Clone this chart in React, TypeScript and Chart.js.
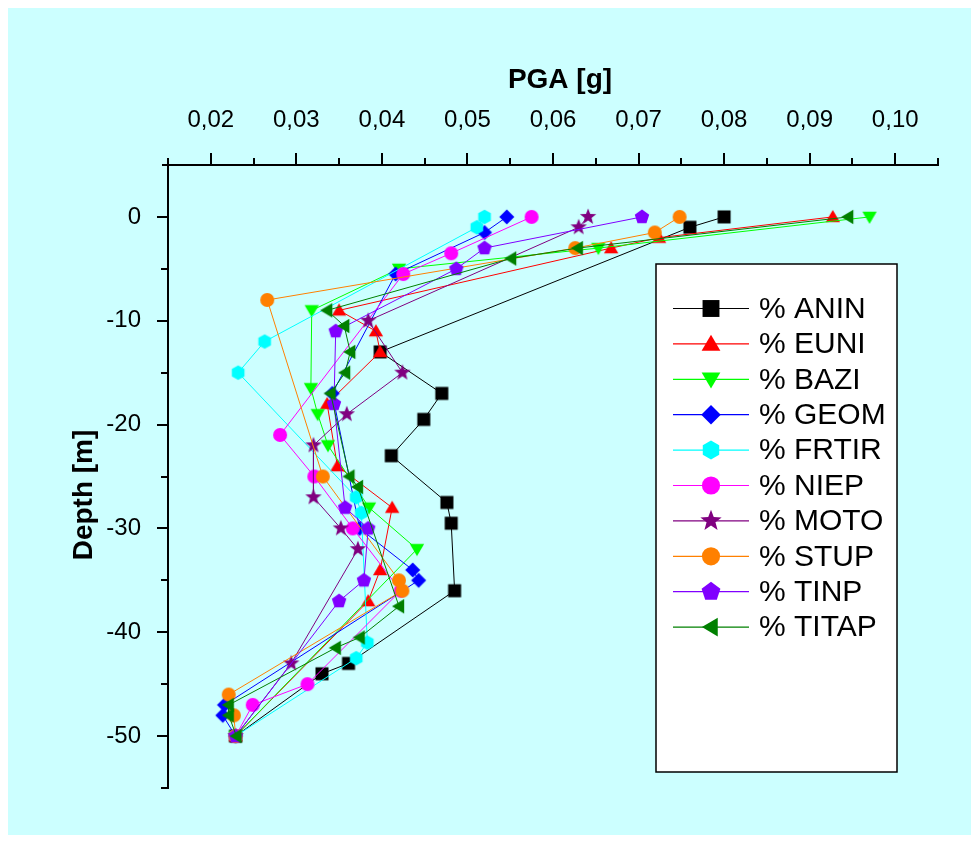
import React, { useEffect, useRef } from 'react';
import { Chart, registerables } from 'chart.js';

Chart.register(...registerables);

// ---- Data: [PGA (g), depth (m)] ----
const ANIN: [number, number][] = [[0.0800, 0], [0.0760, -1], [0.0398, -13], [0.0470, -17], [0.0449, -19.5], [0.0411, -23], [0.0476, -27.5], [0.0481, -29.5], [0.0485, -36], [0.0361, -43], [0.0330, -44], [0.0229, -50]];
const EUNI: [number, number][] = [[0.0927, 0], [0.0724, -2], [0.0668, -3], [0.0350, -9], [0.0393, -11], [0.0398, -13], [0.0336, -18], [0.0348, -24], [0.0412, -28], [0.0398, -34], [0.0384, -37], [0.0229, -50]];
const BAZI: [number, number][] = [[0.0970, 0], [0.0653, -3], [0.0420, -5], [0.0318, -9], [0.0317, -16.5], [0.0325, -19], [0.0337, -22], [0.0385, -28], [0.0441, -32], [0.0229, -50]];
const GEOM: [number, number][] = [[0.0546, 0], [0.0520, -1.5], [0.0416, -5.5], [0.0342, -17], [0.0374, -30], [0.0436, -34], [0.0443, -35], [0.0216, -47], [0.0214, -48], [0.0229, -50]];
const FRTIR: [number, number][] = [[0.0520, 0], [0.0511, -1], [0.0263, -12], [0.0232, -15], [0.0370, -27], [0.0376, -28.5], [0.0383, -41], [0.0370, -42.5], [0.0229, -50]];
const NIEP: [number, number][] = [[0.0575, 0], [0.0481, -3.5], [0.0425, -5.5], [0.0281, -21], [0.0321, -25], [0.0366, -30], [0.0422, -36], [0.0313, -45], [0.0249, -47], [0.0229, -50]];
const MOTO: [number, number][] = [[0.0641, 0], [0.0630, -1], [0.0384, -10], [0.0424, -15], [0.0359, -19], [0.0320, -22], [0.0320, -27], [0.0352, -30], [0.0372, -32], [0.0294, -43], [0.0229, -50]];
const STUP: [number, number][] = [[0.0748, 0], [0.0719, -1.5], [0.0626, -3], [0.0266, -8], [0.0331, -25], [0.0420, -35], [0.0424, -36], [0.0221, -46], [0.0227, -48], [0.0229, -50]];
const TINP: [number, number][] = [[0.0704, 0], [0.0520, -3], [0.0487, -5], [0.0346, -11], [0.0344, -18], [0.0357, -28], [0.0384, -30], [0.0379, -35], [0.0350, -37], [0.0229, -50]];
const TITAP: [number, number][] = [[0.0945, 0], [0.0629, -3], [0.0551, -4], [0.0336, -9], [0.0356, -10.5], [0.0363, -13], [0.0357, -15], [0.0340, -17], [0.0362, -25], [0.0372, -26], [0.0420, -37.5], [0.0374, -40.5], [0.0346, -41.5], [0.0221, -47], [0.0221, -48], [0.0230, -50]];

const SERIES = [ANIN, EUNI, BAZI, GEOM, FRTIR, NIEP, MOTO, STUP, TINP, TITAP];
const NAMES = ['% ANIN', '% EUNI', '% BAZI', '% GEOM', '% FRTIR', '% NIEP', '% MOTO', '% STUP', '% TINP', '% TITAP'];
const COLORS = ['#000000', '#FF0000', '#00FF00', '#0000FF', '#00FFFF', '#FF00FF', '#800080', '#FF8000', '#8000FF', '#008000'];
const SHAPES = ['square', 'triUp', 'triDown', 'diamond', 'hexagon', 'circle', 'star', 'circle', 'pentagon', 'triLeft'];

const X_MAJOR = [0.02, 0.03, 0.04, 0.05, 0.06, 0.07, 0.08, 0.09, 0.10];
const X_MINOR = [0.015, 0.025, 0.035, 0.045, 0.055, 0.065, 0.075, 0.085, 0.095, 0.105];
const Y_MAJOR = [0, -10, -20, -30, -40, -50];
const Y_MINOR = [-5, -15, -25, -35, -45, -55];

const X_TITLE = 'PGA [g]';
const Y_TITLE = 'Depth [m]';
const FONT = '"Liberation Sans", Arial, sans-serif';

function markerPath(ctx: CanvasRenderingContext2D, shape: string, cx: number, cy: number, s: number) {
  ctx.beginPath();
  const poly = (n: number, r: number, start: number) => {
    for (let k = 0; k < n; k++) {
      const a = start + (k * 2 * Math.PI) / n;
      const px = cx + r * Math.cos(a);
      const py = cy + r * Math.sin(a);
      if (k === 0) ctx.moveTo(px, py); else ctx.lineTo(px, py);
    }
    ctx.closePath();
  };
  switch (shape) {
    case 'square': { const h = 6.5 * s; ctx.rect(cx - h, cy - h, 2 * h, 2 * h); break; }
    case 'triUp': ctx.moveTo(cx, cy - 7 * s); ctx.lineTo(cx + 7.2 * s, cy + 5.2 * s); ctx.lineTo(cx - 7.2 * s, cy + 5.2 * s); ctx.closePath(); break;
    case 'triDown': ctx.moveTo(cx, cy + 7 * s); ctx.lineTo(cx + 7.2 * s, cy - 5.2 * s); ctx.lineTo(cx - 7.2 * s, cy - 5.2 * s); ctx.closePath(); break;
    case 'triLeft': ctx.moveTo(cx - 7 * s, cy); ctx.lineTo(cx + 5.2 * s, cy - 7.2 * s); ctx.lineTo(cx + 5.2 * s, cy + 7.2 * s); ctx.closePath(); break;
    case 'diamond': poly(4, 7.5 * s, -Math.PI / 2); break;
    case 'hexagon': poly(6, 7.3 * s, -Math.PI / 2); break;
    case 'pentagon': poly(5, 7.6 * s, -Math.PI / 2); break;
    case 'circle': ctx.arc(cx, cy, 7 * s, 0, Math.PI * 2); break;
    case 'star': {
      for (let k = 0; k < 10; k++) {
        const r = (k % 2 === 0 ? 8.6 : 3.6) * s;
        const a = -Math.PI / 2 + (k * Math.PI) / 5;
        const px = cx + r * Math.cos(a);
        const py = cy + r * Math.sin(a);
        if (k === 0) ctx.moveTo(px, py); else ctx.lineTo(px, py);
      }
      ctx.closePath();
      break;
    }
  }
}

function makeMarker(shape: string, color: string): HTMLCanvasElement {
  const c = document.createElement('canvas');
  c.width = 24; c.height = 24;
  const ctx = c.getContext('2d')!;
  ctx.fillStyle = color;
  markerPath(ctx, shape, 12, 12, 1);
  ctx.fill();
  return c;
}

const decorPlugin = {
  id: 'decor',
  afterDraw(chart: any) {
    const ctx: CanvasRenderingContext2D = chart.ctx;
    const xs = chart.scales.x;
    const ys = chart.scales.y;
    const ca = chart.chartArea;
    ctx.save();
    ctx.strokeStyle = '#000';
    ctx.lineWidth = 2;
    ctx.beginPath();
    ctx.moveTo(ca.left - 6, ca.top); ctx.lineTo(ca.right + 1, ca.top);
    ctx.moveTo(ca.left, ca.top - 5); ctx.lineTo(ca.left, ca.bottom + 1);
    for (const v of X_MAJOR) { const p = Math.round(xs.getPixelForValue(v)); ctx.moveTo(p, ca.top); ctx.lineTo(p, ca.top - 12); }
    for (const v of X_MINOR) { const p = Math.round(xs.getPixelForValue(v)); ctx.moveTo(p, ca.top); ctx.lineTo(p, ca.top - 7); }
    for (const v of Y_MAJOR) { const p = Math.round(ys.getPixelForValue(v)); ctx.moveTo(ca.left, p); ctx.lineTo(ca.left - 11, p); }
    for (const v of Y_MINOR) { const p = Math.round(ys.getPixelForValue(v)); ctx.moveTo(ca.left, p); ctx.lineTo(ca.left - 7, p); }
    ctx.stroke();

    // axis titles
    ctx.fillStyle = '#000';
    ctx.font = `bold 28px ${FONT}`;
    ctx.textAlign = 'center';
    ctx.textBaseline = 'middle';
    ctx.fillText(X_TITLE, 552, 72);
    ctx.save();
    ctx.translate(76, 487);
    ctx.rotate(-Math.PI / 2);
    ctx.fillText(Y_TITLE, 0, 0);
    ctx.restore();

    // legend box
    const bx = 648, by = 256, bw = 241, bh = 508;
    ctx.fillStyle = '#FFFFFF';
    ctx.fillRect(bx, by, bw, bh);
    ctx.lineWidth = 1.5;
    ctx.strokeStyle = '#000';
    ctx.strokeRect(bx, by, bw, bh);
    ctx.font = `30px ${FONT}`;
    ctx.textAlign = 'left';
    ctx.textBaseline = 'middle';
    for (let i = 0; i < NAMES.length; i++) {
      const y = 300.5 + i * 35.4;
      ctx.strokeStyle = COLORS[i];
      ctx.lineWidth = 1.2;
      ctx.beginPath();
      ctx.moveTo(665, y); ctx.lineTo(741, y);
      ctx.stroke();
      ctx.fillStyle = COLORS[i];
      markerPath(ctx, SHAPES[i], 703, y, 1.3);
      ctx.fill();
      ctx.fillStyle = '#000';
      ctx.fillText(NAMES[i], 751, y + 1);
    }
    ctx.restore();
  },
};

export default function App() {
  const ref = useRef<HTMLCanvasElement | null>(null);
  useEffect(() => {
    if (!ref.current) return;
    const datasets = SERIES.map((s, i) => ({
      label: NAMES[i],
      data: s.map(([x, y]) => ({ x, y })),
      showLine: true,
      borderColor: COLORS[i],
      backgroundColor: COLORS[i],
      borderWidth: 1,
      pointStyle: makeMarker(SHAPES[i], COLORS[i]),
      pointRadius: 7,
      order: SERIES.length - i,
      clip: false as any,
    }));
    const chart = new Chart(ref.current, {
      type: 'scatter',
      data: { datasets },
      options: {
        animation: false,
        responsive: false,
        events: [],
        layout: { padding: { top: 0, left: 0, right: 33, bottom: 47 } },
        plugins: { legend: { display: false }, tooltip: { enabled: false } },
        scales: {
          x: {
            type: 'linear',
            position: 'top',
            min: 0.015,
            max: 0.105,
            grid: { display: false },
            border: { display: false },
            afterBuildTicks: (scale: any) => { scale.ticks = X_MAJOR.map((v) => ({ value: v })); },
            afterFit: (scale: any) => { scale.height = 157; },
            ticks: {
              padding: 22,
              color: '#000',
              font: { family: FONT, size: 24 },
              maxRotation: 0,
              autoSkip: false,
              callback: (v: any) => Number(v).toFixed(2).replace('.', ','),
            },
          },
          y: {
            type: 'linear',
            position: 'left',
            min: -55,
            max: 5,
            grid: { display: false },
            border: { display: false },
            afterBuildTicks: (scale: any) => { scale.ticks = Y_MAJOR.map((v) => ({ value: v })); },
            afterFit: (scale: any) => { scale.width = 160; },
            ticks: {
              padding: 19,
              color: '#000',
              font: { family: FONT, size: 24 },
              autoSkip: false,
              callback: (v: any) => String(Math.round(Number(v))),
            },
          },
        },
      },
      plugins: [decorPlugin],
    });
    return () => chart.destroy();
  }, []);
  return (
    <div style={{ width: 963, height: 827, background: '#CCFFFF' }}>
      <canvas ref={ref} width={963} height={827} style={{ display: 'block' }} />
    </div>
  );
}
